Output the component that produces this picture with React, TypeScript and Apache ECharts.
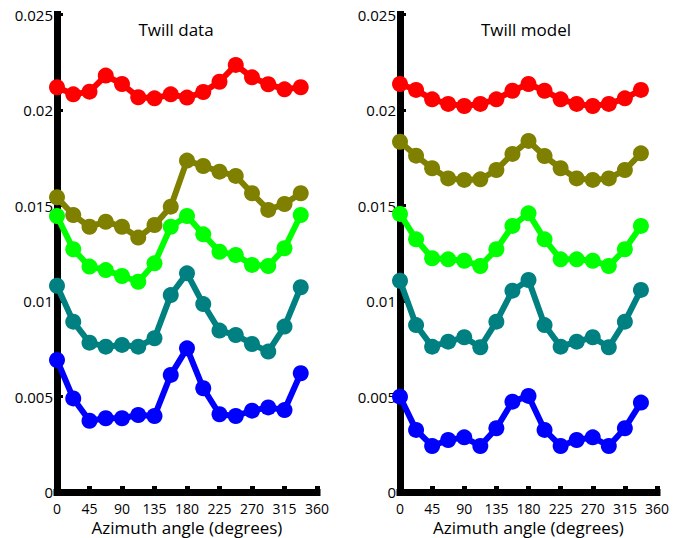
import React, { useEffect, useRef } from "react";
import * as echarts from "echarts";

const angles = [0, 22.5, 45, 67.5, 90, 112.5, 135, 157.5, 180, 202.5, 225, 247.5, 270, 292.5, 315, 337.5];
const xTicks = [0, 45, 90, 135, 180, 225, 270, 315, 360];
const yTicks = [0, 0.005, 0.01, 0.015, 0.02, 0.025];
const panelTitles = ["Twill data", "Twill model"];
const xAxisTitle = "Azimuth angle (degrees)";

const seriesColors = ["#ff0000", "#808000", "#00ff00", "#008080", "#0000ff"];

const dataRed = [0.02119, 0.02082, 0.02096, 0.0218, 0.02136, 0.02067, 0.02061, 0.02082, 0.02065, 0.02094, 0.02148, 0.02236, 0.02171, 0.02135, 0.02108, 0.02119];
const dataOlive = [0.01543, 0.0145, 0.01389, 0.01415, 0.01389, 0.01332, 0.01398, 0.01494, 0.01735, 0.01707, 0.01677, 0.01655, 0.01564, 0.01477, 0.01508, 0.01564];
const dataGreen = [0.01445, 0.01271, 0.0118, 0.01162, 0.01131, 0.01101, 0.01197, 0.01389, 0.01445, 0.01349, 0.01258, 0.01241, 0.01189, 0.01183, 0.01276, 0.0145];
const dataTeal = [0.0108, 0.00892, 0.00782, 0.00761, 0.0077, 0.00761, 0.00805, 0.01031, 0.01145, 0.00984, 0.00845, 0.00822, 0.00775, 0.00735, 0.00866, 0.01072];
const dataBlue = [0.00691, 0.0049, 0.00373, 0.00386, 0.00386, 0.00403, 0.00398, 0.00613, 0.00752, 0.00543, 0.00407, 0.00398, 0.00426, 0.00443, 0.00429, 0.00622];

const modelRed = [0.02136, 0.02105, 0.02056, 0.02032, 0.02021, 0.02032, 0.02056, 0.02101, 0.02136, 0.02101, 0.02056, 0.02032, 0.02021, 0.02032, 0.02061, 0.02105];
const modelOlive = [0.01834, 0.01761, 0.01695, 0.01642, 0.01634, 0.01637, 0.01686, 0.0177, 0.01838, 0.01759, 0.01695, 0.01642, 0.01634, 0.01642, 0.01686, 0.01773];
const modelGreen = [0.01456, 0.01323, 0.01224, 0.01218, 0.01211, 0.01183, 0.01271, 0.01393, 0.01459, 0.01323, 0.01218, 0.01218, 0.01211, 0.01183, 0.01271, 0.01393];
const modelTeal = [0.01106, 0.00874, 0.00761, 0.00787, 0.0081, 0.00758, 0.00892, 0.01054, 0.0111, 0.00874, 0.00761, 0.00787, 0.0081, 0.00758, 0.00892, 0.01058];
const modelBlue = [0.00499, 0.00325, 0.00241, 0.00272, 0.00286, 0.00241, 0.00334, 0.00473, 0.00503, 0.00325, 0.00241, 0.00272, 0.00286, 0.00241, 0.00334, 0.00468];

const panels = [
  [dataRed, dataOlive, dataGreen, dataTeal, dataBlue],
  [modelRed, modelOlive, modelGreen, modelTeal, modelBlue],
];

const FONT = "'Open Sans', 'Liberation Sans', sans-serif";

export default function App() {
  const ref = useRef<HTMLDivElement>(null);
  useEffect(() => {
    document.body.style.margin = "0";
    if (!ref.current) return;
    const chart = echarts.init(ref.current, null, { renderer: "svg" });
    const grids = [
      { left: 57, right: 372, top: 14.5, bottom: 46, containLabel: false, outerBoundsMode: "none" },
      { left: 400, right: 32, top: 14.5, bottom: 46, containLabel: false, outerBoundsMode: "none" },
    ];
    const axisLineStyle = { color: "#000", width: 7, cap: "square" };
    const xAxes = grids.map((_, i) => ({
      type: "value",
      gridIndex: i,
      min: 0,
      max: 360,
      interval: 45,
      splitLine: { show: false },
      axisLine: { show: true, onZero: false, lineStyle: axisLineStyle },
      axisTick: { show: true, inside: true, length: 6, lineStyle: { color: "#000", width: 5 } },
      axisLabel: {
        color: "#000",
        fontSize: 14,
        fontFamily: FONT,
        margin: 9,
        lineHeight: 14,
        customValues: xTicks,
      },
      name: xAxisTitle,
      nameLocation: "middle",
      nameGap: 27,
      nameMoveOverlap: false,
      nameTextStyle: { color: "#000", fontSize: 17, lineHeight: 17, fontFamily: FONT },
    }));
    const yAxes = grids.map((_, i) => ({
      type: "value",
      gridIndex: i,
      min: 0,
      max: 0.025,
      interval: 0.005,
      splitLine: { show: false },
      axisLine: { show: true, onZero: false, lineStyle: axisLineStyle },
      axisTick: { show: true, inside: true, length: 6, lineStyle: { color: "#000", width: 3 } },
      axisLabel: {
        color: "#000",
        fontSize: 15,
        fontFamily: FONT,
        margin: 4,
        customValues: yTicks,
        formatter: (v: number) => String(parseFloat(v.toFixed(4))),
      },
    }));
    const series: any[] = [];
    panels.forEach((sets, pi) => {
      sets.forEach((vals, si) => {
        series.push({
          type: "line",
          xAxisIndex: pi,
          yAxisIndex: pi,
          data: angles.map((a, k) => [a, vals[k]]),
          symbol: "circle",
          symbolSize: 16,
          lineStyle: { color: seriesColors[si], width: 6 },
          itemStyle: { color: seriesColors[si] },
          silent: true,
        });
      });
    });
    chart.setOption({
      animation: false,
      backgroundColor: "#fff",
      title: [
        { text: panelTitles[0], left: 171, top: 16, textAlign: "center", textStyle: { fontSize: 17, fontWeight: "normal", color: "#000", fontFamily: FONT } },
        { text: panelTitles[1], left: 521, top: 16, textAlign: "center", textStyle: { fontSize: 17, fontWeight: "normal", color: "#000", fontFamily: FONT } },
      ],
      grid: grids,
      xAxis: xAxes,
      yAxis: yAxes,
      series,
    });
    return () => chart.dispose();
  }, []);
  return <div ref={ref} style={{ position: "fixed", left: 0, top: 0, width: 689, height: 538 }} />;
}
